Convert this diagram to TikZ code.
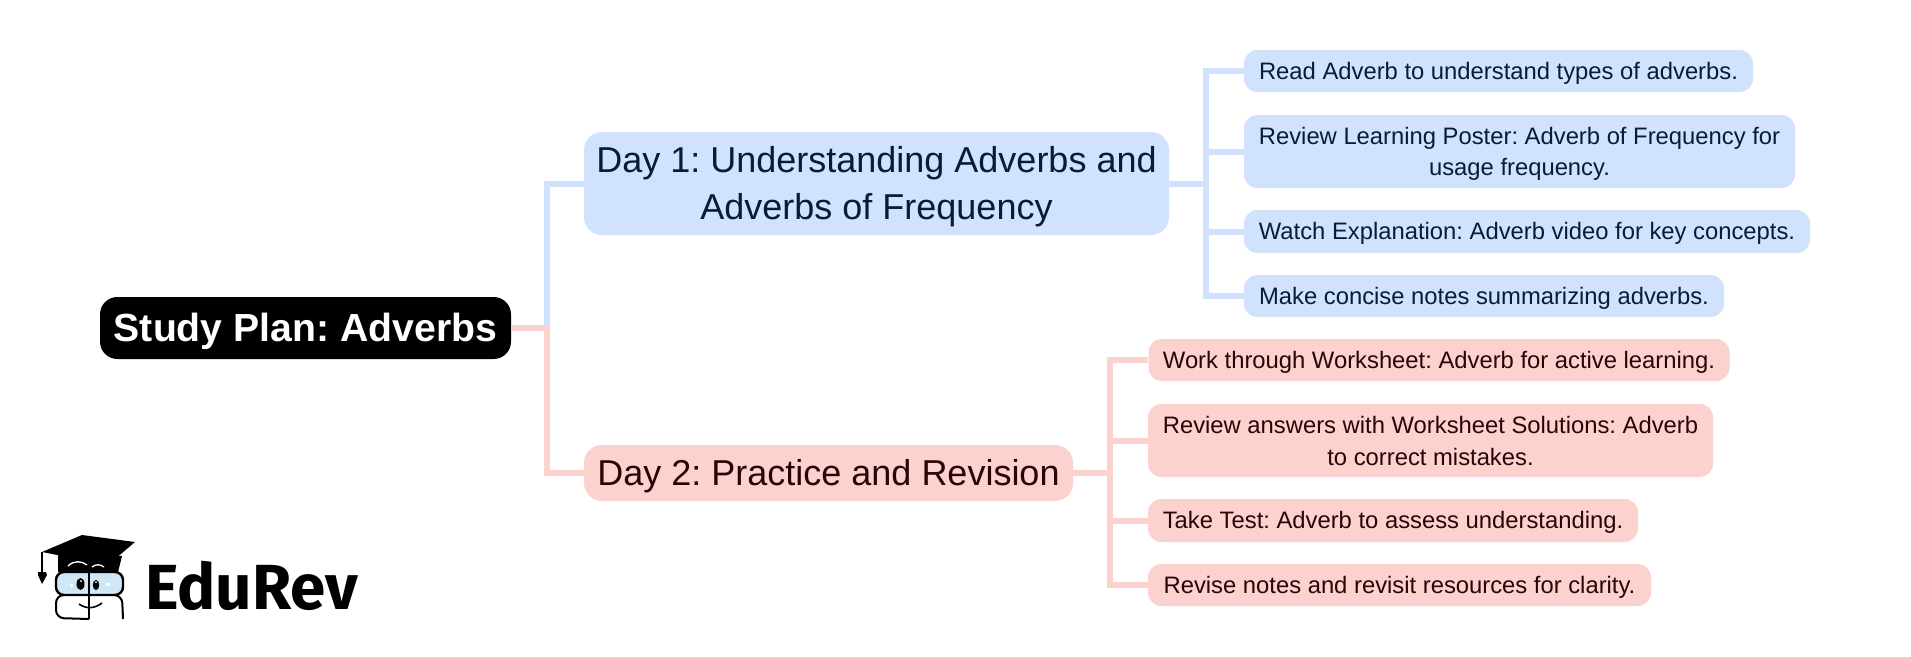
\documentclass[tikz,border=0pt]{standalone}
\usepackage{fontspec}
\setmainfont{Liberation Sans}
\newfontfamily\logofont{Fira Sans}
\definecolor{blueF}{HTML}{D1E2FC}
\definecolor{pinkF}{HTML}{FCD2CE}
\definecolor{blueT}{HTML}{0A1A3A}
\definecolor{pinkT}{HTML}{2A0505}
\definecolor{glass}{HTML}{CFE7F6}
\newcommand{\fs}[1]{\fontsize{#1}{#1}\selectfont\frenchspacing}
\newcommand{\bigup}{\rule{0pt}{24pt}}
\newcommand{\rootup}{\rule{0pt}{26.5pt}}
\newcommand{\smallup}{\rule{0pt}{16pt}}
\newcommand{\twoup}{\rule{0pt}{13.5pt}}
\tikzset{
  box/.style={inner sep=0pt,align=center,rounded corners=#1},
  rootbox/.style={box=13pt,fill=black,text=white,font=\fs{29.4}\bfseries,minimum width=308.25pt,minimum height=46.5pt},
  bluemain/.style={box=13.5pt,fill=blueF,text=blueT,font=\fs{27}},
  pinkmain/.style={box=13.5pt,fill=pinkF,text=pinkT,font=\fs{27}},
  blueleaf/.style={box=10pt,fill=blueF,text=blueT,font=\fs{17.85}},
  pinkleaf/.style={box=10pt,fill=pinkF,text=pinkT,font=\fs{17.85}},
  blueline/.style={draw=blueF,line width=4.5pt},
  pinkline/.style={draw=pinkF,line width=4.5pt},
  bigtwo/.style={execute at begin node={\baselineskip=35pt}},
  smalltwo/.style={execute at begin node={\baselineskip=23.5pt}},
}
\begin{document}
\begin{tikzpicture}[x=0.75pt,y=-0.75pt]
\useasboundingbox (0,0) rectangle (1911,657);
\fill[white] (0,0) rectangle (1911,657);
\node[rootbox] (root) at (305.5,328) {\rootup Study Plan: Adverbs};
\node[bluemain,minimum width=438.75pt,minimum height=77.25pt,bigtwo] (day1) at (876.5,183.5) {\bigup Day 1: Understanding Adverbs and\\Adverbs of Frequency};
\node[pinkmain,minimum width=366.75pt,minimum height=42pt] (day2) at (828.5,473) {\bigup Day 2: Practice and Revision};
\node[blueleaf,minimum width=381.75pt,minimum height=31.5pt] (a1) at (1498.5,71) {\smallup Read Adverb to understand types of adverbs.};
\node[blueleaf,minimum width=413.25pt,minimum height=54.75pt,smalltwo] (a2) at (1519.5,151.5) {\smallup Review Learning Poster: Adverb of Frequency for\\usage frequency.};
\node[blueleaf,minimum width=424.5pt,minimum height=32.25pt] (a3) at (1527,231.5) {\smallup Watch Explanation: Adverb video for key concepts.};
\node[blueleaf,minimum width=360pt,minimum height=31.5pt] (a4) at (1484,296) {\smallup Make concise notes summarizing adverbs.};
\node[pinkleaf,minimum width=435.75pt,minimum height=31.5pt] (b1) at (1439,360) {\smallup Work through Worksheet: Adverb for active learning.};
\node[pinkleaf,minimum width=423.75pt,minimum height=54.75pt,smalltwo] (b2) at (1430.5,440.5) {\twoup Review answers with Worksheet Solutions: Adverb\\to correct mistakes.};
\node[pinkleaf,minimum width=367.5pt,minimum height=32.25pt] (b3) at (1393,520.5) {\smallup Take Test: Adverb to assess understanding.};
\node[pinkleaf,minimum width=377.25pt,minimum height=31.5pt] (b4) at (1399.5,585) {\smallup Revise notes and revisit resources for clarity.};
% connectors
\draw[blueline] (root.east) -- ++(36,0) |- (day1.west);
\draw[pinkline] (root.east) -- ++(36,0) |- (day2.west);
\draw[blueline] (day1.east) -- ++(37,0) |- (a1.west);
\draw[blueline] (day1.east) -- ++(37,0) |- (a2.west);
\draw[blueline] (day1.east) -- ++(37,0) |- (a3.west);
\draw[blueline] (day1.east) -- ++(37,0) |- (a4.west);
\draw[pinkline] (day2.east) -- ++(37,0) |- (b1.west);
\draw[pinkline] (day2.east) -- ++(37,0) |- (b2.west);
\draw[pinkline] (day2.east) -- ++(37,0) |- (b3.west);
\draw[pinkline] (day2.east) -- ++(37,0) |- (b4.west);
% logo
\node[inner sep=0pt,anchor=west,font=\fs{47.8}\logofont\bfseries] (logo) at (145,586) {EduRev};
\fill[black] (58,554) -- (58,572) -- (118,572) -- (122,556) -- cycle;
\fill[black] (42,552) -- (82,535) -- (135,542) -- (108,565) -- cycle;
\draw[black,line width=1.2pt] (42,552) -- (42,572);
\fill[black] (38,572) -- (46,572) -- (47,575) -- (42,584) -- (38,575) -- cycle;
\draw[white,line width=1pt] (68,566) .. controls (74,560) and (82,561) .. (87,565);
\draw[white,line width=1pt] (92,567) .. controls (96,564) and (100,564) .. (104,567);
\draw[black,line width=1.8pt,fill=glass,rounded corners=6pt] (56,572) rectangle (123,595);
\draw[black,line width=1.5pt,rounded corners=6pt] (60,595) -- (56,595) -- (56,618) -- (89,619);
\draw[black,line width=1.5pt,rounded corners=6pt] (118,595) -- (122,595) -- (123,619);
\draw[black,line width=1.5pt] (89,570) -- (89,619);
\fill[black] (80.5,584) ellipse (4 and 6);
\fill[black] (96,585) ellipse (3.2 and 5);
\fill[white] (81,581) circle (1);
\fill[white] (96,582) circle (1);
\fill[white] (70,584) rectangle (73,587);
\fill[white] (106,583) rectangle (110,586);
\draw[black,line width=1.2pt] (79,604) .. controls (86,609) and (94,609) .. (102,603);
\end{tikzpicture}
\end{document}
